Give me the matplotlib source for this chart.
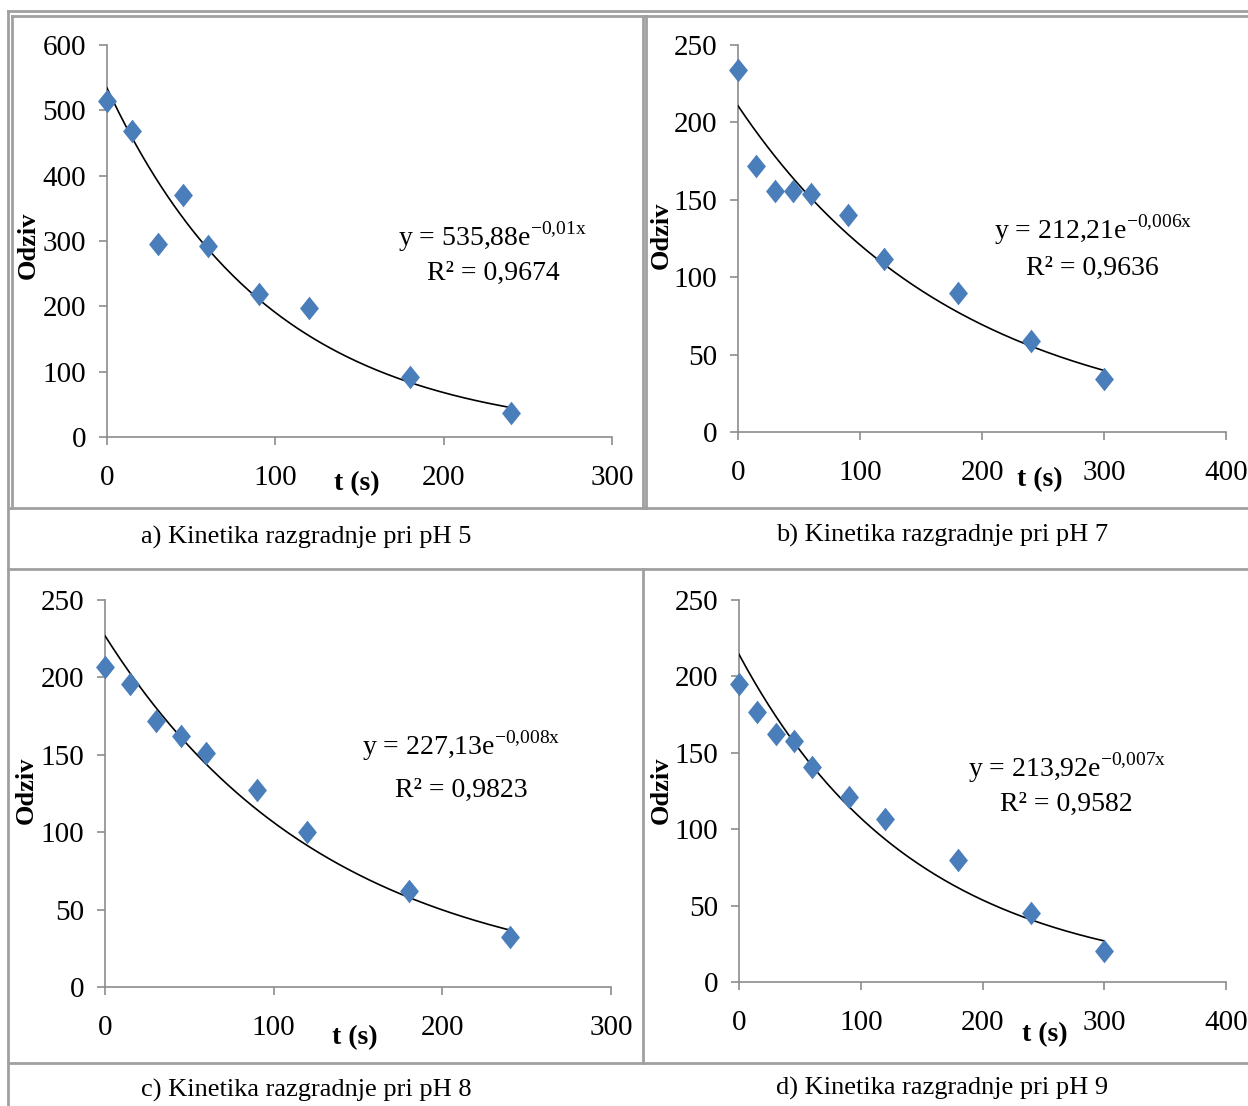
import numpy as np
import matplotlib
matplotlib.use("Agg")
import matplotlib.pyplot as plt
from matplotlib.lines import Line2D

plt.rcParams['font.family'] = ['Liberation Serif', 'DejaVu Serif']
plt.rcParams['mathtext.fontset'] = 'custom'
plt.rcParams['mathtext.rm'] = 'Liberation Serif'

# vrijeme (s)
t_a = [0, 15, 30, 45, 60, 90, 120, 180, 240]
t_b = [0, 15, 30, 45, 60, 90, 120, 180, 240, 300]
t_c = [0, 15, 30, 45, 60, 90, 120, 180, 240]
t_d = [0, 15, 30, 45, 60, 90, 120, 180, 240, 300]

# odziv
odziv_a = [515, 469, 296, 370, 293, 219, 197, 92, 37]
odziv_b = [234, 172, 156, 156, 154, 140, 112, 90, 59, 34]
odziv_c = [207, 196, 172, 162, 151, 127, 100, 62, 32]
odziv_d = [195, 177, 162, 158, 141, 121, 107, 80, 45, 20]

# jednadzbe trenda kako ih Excel ispisuje
A_lbl = ["535,88", "212,21", "227,13", "213,92"]
k_lbl = ["-0{,}01x", "-0{,}006x", "-0{,}008x", "-0{,}007x"]
r2 = ["0,9674", "0,9636", "0,9823", "0,9582"]

captions = ["a) Kinetika razgradnje pri pH 5", "b) Kinetika razgradnje pri pH 7",
            "c) Kinetika razgradnje pri pH 8", "d) Kinetika razgradnje pri pH 9"]

xmax = [300, 400, 300, 400]
ymax = [600, 250, 250, 250]
ystep = [100, 50, 50, 50]

W, H = 1248, 1106
fig = plt.figure(figsize=(W / 100, H / 100), dpi=100)

def px(x0, y0, x1, y1):
    # pixel box -> figure fraction [left, bottom, width, height]
    return [x0 / W, 1 - y1 / H, (x1 - x0) / W, (y1 - y0) / H]

# okvir tablice
border = '#a0a0a0'
def hline(y, x0, x1, lw=2):
    fig.add_artist(Line2D([x0 / W, x1 / W], [1 - y / H, 1 - y / H], color=border, lw=lw))
def vline(x, y0, y1, lw=2):
    fig.add_artist(Line2D([x / W, x / W], [1 - y0 / H, 1 - y1 / H], color=border, lw=lw))

hline(11, 8, 1248)
vline(8, 11, 1106)
hline(16, 12, 1248)
vline(12, 16, 508)
vline(643, 16, 508)
vline(646, 16, 508)
hline(508, 10, 1248)
hline(569, 8, 1248)
vline(643, 569, 1063)
hline(1063, 8, 1248)

boxes = [(107, 45, 612, 437), (738, 45, 1226, 432),
         (105, 600, 611, 987), (739, 600, 1226, 982)]
eq_pos = [(0.764, 0.51, 0.418), (0.727, 0.522, 0.424),
          (0.705, 0.623, 0.509), (0.673, 0.56, 0.466)]
odziv_pos = [(28, 245), (661, 235), (26, 790), (661, 790)]
ts_pos = [(357, 484), (1040, 480), (355, 1038), (1045, 1035)]
cap_pos = [(306, 537), (942, 535), (306, 1090), (942, 1088)]

times = [t_a, t_b, t_c, t_d]
vals = [odziv_a, odziv_b, odziv_c, odziv_d]

diamond = [(0, 1), (0.8, 0), (0, -1), (-0.8, 0), (0, 1)]

for i in range(4):
    ax = fig.add_axes(px(*boxes[i]))
    ax.set_xlim(0, xmax[i])
    ax.set_ylim(0, ymax[i])
    for s in ['top', 'right']:
        ax.spines[s].set_visible(False)
    for s in ['left', 'bottom']:
        ax.spines[s].set_color('#8c8c8c')
        ax.spines[s].set_linewidth(1.2)
    ax.set_xticks(np.arange(0, xmax[i] + 1, 100))
    ax.set_yticks(np.arange(0, ymax[i] + 1, ystep[i]))
    ax.tick_params(axis='x', direction='out', length=6, width=1.2, color='#8c8c8c',
                   pad=14, labelsize=21)
    ax.tick_params(axis='y', direction='out', length=6, width=1.2, color='#8c8c8c',
                   pad=9, labelsize=21)

    # eksponencijalni trend (isto kao Excel: pravac kroz ln y)
    x = np.array(times[i], dtype=float)
    y = np.array(vals[i], dtype=float)
    slope, icpt = np.polyfit(x, np.log(y), 1)
    tt = np.linspace(0, x.max(), 200)
    ax.plot(tt, np.exp(icpt + slope * tt), color='black', lw=1.2, zorder=3)
    ax.plot(x, y, linestyle='none', marker=diamond, markersize=17,
            color='#4a7ebb', markeredgewidth=0, clip_on=False, zorder=4)

    ex, ey, ry = eq_pos[i]
    ax.text(ex, ey, "y = " + A_lbl[i] + "e$^{\\mathregular{" + k_lbl[i] + "}}$",
            transform=ax.transAxes, ha='center', va='center', fontsize=20)
    ax.text(ex, ry, "R² = " + r2[i], transform=ax.transAxes,
            ha='center', va='center', fontsize=20)

    fig.text(odziv_pos[i][0] / W, 1 - odziv_pos[i][1] / H, "Odziv", rotation=90,
             ha='center', va='center', fontsize=19, fontweight='bold')
    fig.text(ts_pos[i][0] / W, 1 - ts_pos[i][1] / H, "t (s)",
             ha='center', va='center', fontsize=20, fontweight='bold')
    fig.text(cap_pos[i][0] / W, 1 - cap_pos[i][1] / H, captions[i],
             ha='center', va='center', fontsize=19)

fig.savefig("out.png", dpi=100)
